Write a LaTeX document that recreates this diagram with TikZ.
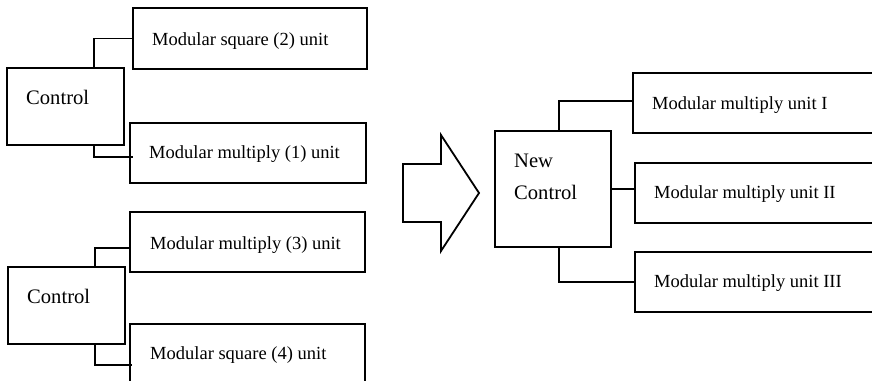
\documentclass[tikz,border=0pt]{standalone}
\usepackage{fontspec}
\setmainfont{Liberation Serif}
\begin{document}
\begin{tikzpicture}[x=1pt,y=-1pt,
  box/.style={draw, line width=1.8pt, rectangle, inner sep=0pt, anchor=north west},
  unittext/.style={inner sep=0pt, anchor=base west, font=\fontsize{18.5}{22}\selectfont},
  ctltext/.style={inner sep=0pt, anchor=base west, align=left, font=\fontsize{20.6}{32}\selectfont},
  wire/.style={line width=1.8pt}]
\useasboundingbox (0,0) rectangle (872,380);
\clip (0,0) rectangle (872,380);
% left upper group
\node[box, minimum width=234pt, minimum height=61pt] (sq2) at (132,7) {};
\node[box, minimum width=117pt, minimum height=77pt] (ctl1) at (6,67) {};
\node[box, minimum width=236pt, minimum height=60pt] (mul1) at (129,122) {};
% left lower group
\node[box, minimum width=235pt, minimum height=60pt] (mul3) at (129,211) {};
\node[box, minimum width=117pt, minimum height=77pt] (ctl2) at (7,266) {};
\node[box, minimum width=235pt, minimum height=61pt] (sq4) at (129,323) {};
% right group
\node[box, minimum width=116pt, minimum height=116pt] (nctl) at (494,130) {};
\node[box, minimum width=248pt, minimum height=60pt] (uI) at (632,72) {};
\node[box, minimum width=246pt, minimum height=60pt] (uII) at (634,162) {};
\node[box, minimum width=246pt, minimum height=60pt] (uIII) at (634,251) {};
% texts
\node[unittext] (t-sq2) at ([xshift=20pt,yshift=-7pt]sq2.west) {Modular square (2) unit};
\node[unittext] (t-mul1) at ([xshift=20pt,yshift=-6pt]mul1.west) {Modular multiply (1) unit};
\node[unittext] (t-mul3) at ([xshift=21pt,yshift=-8pt]mul3.west) {Modular multiply (3) unit};
\node[unittext] (t-sq4) at ([xshift=21pt,yshift=-5.5pt]sq4.west) {Modular square (4) unit};
\node[unittext] (t-uI) at ([xshift=20pt,yshift=-7pt]uI.west) {Modular multiply unit I};
\node[unittext] (t-uII) at ([xshift=20pt,yshift=-6pt]uII.west) {Modular multiply unit II};
\node[unittext] (t-uIII) at ([xshift=20pt,yshift=-6pt]uIII.west) {Modular multiply unit III};
\node[ctltext] (t-ctl1) at ([xshift=20pt,yshift=1.5pt]ctl1.west) {Control};
\node[ctltext] (t-ctl2) at ([xshift=20pt,yshift=1.5pt]ctl2.west) {Control};
\node[ctltext] (t-nctl) at ([xshift=20pt,yshift=-11pt]nctl.west) {New\\Control};
% connectors
\draw[wire] ([xshift=28.5pt]ctl1.north) |- (sq2.west);
\draw[wire] ([xshift=28.5pt]ctl1.south) |- ([xshift=4pt,yshift=-4pt]mul1.west);
\draw[wire] ([xshift=28.5pt]ctl2.north) |- ([yshift=-6pt]mul3.west);
\draw[wire] ([xshift=28.5pt]ctl2.south) |- ([xshift=3pt,yshift=-42pt]sq4.north west);
\draw[wire] ([xshift=6pt]nctl.north) |- ([yshift=2pt]uI.west);
\draw[wire] (nctl.east) -- (nctl.east -| uII.west);
\draw[wire] ([xshift=6pt]nctl.south) |- (uIII.west);
% block arrow
\draw[line width=1.8pt, line join=miter] (403,164) -- (441,164) -- (441,135) -- (479,193) -- (441,251) -- (441,222) -- (403,222) -- cycle;
\end{tikzpicture}
\end{document}
